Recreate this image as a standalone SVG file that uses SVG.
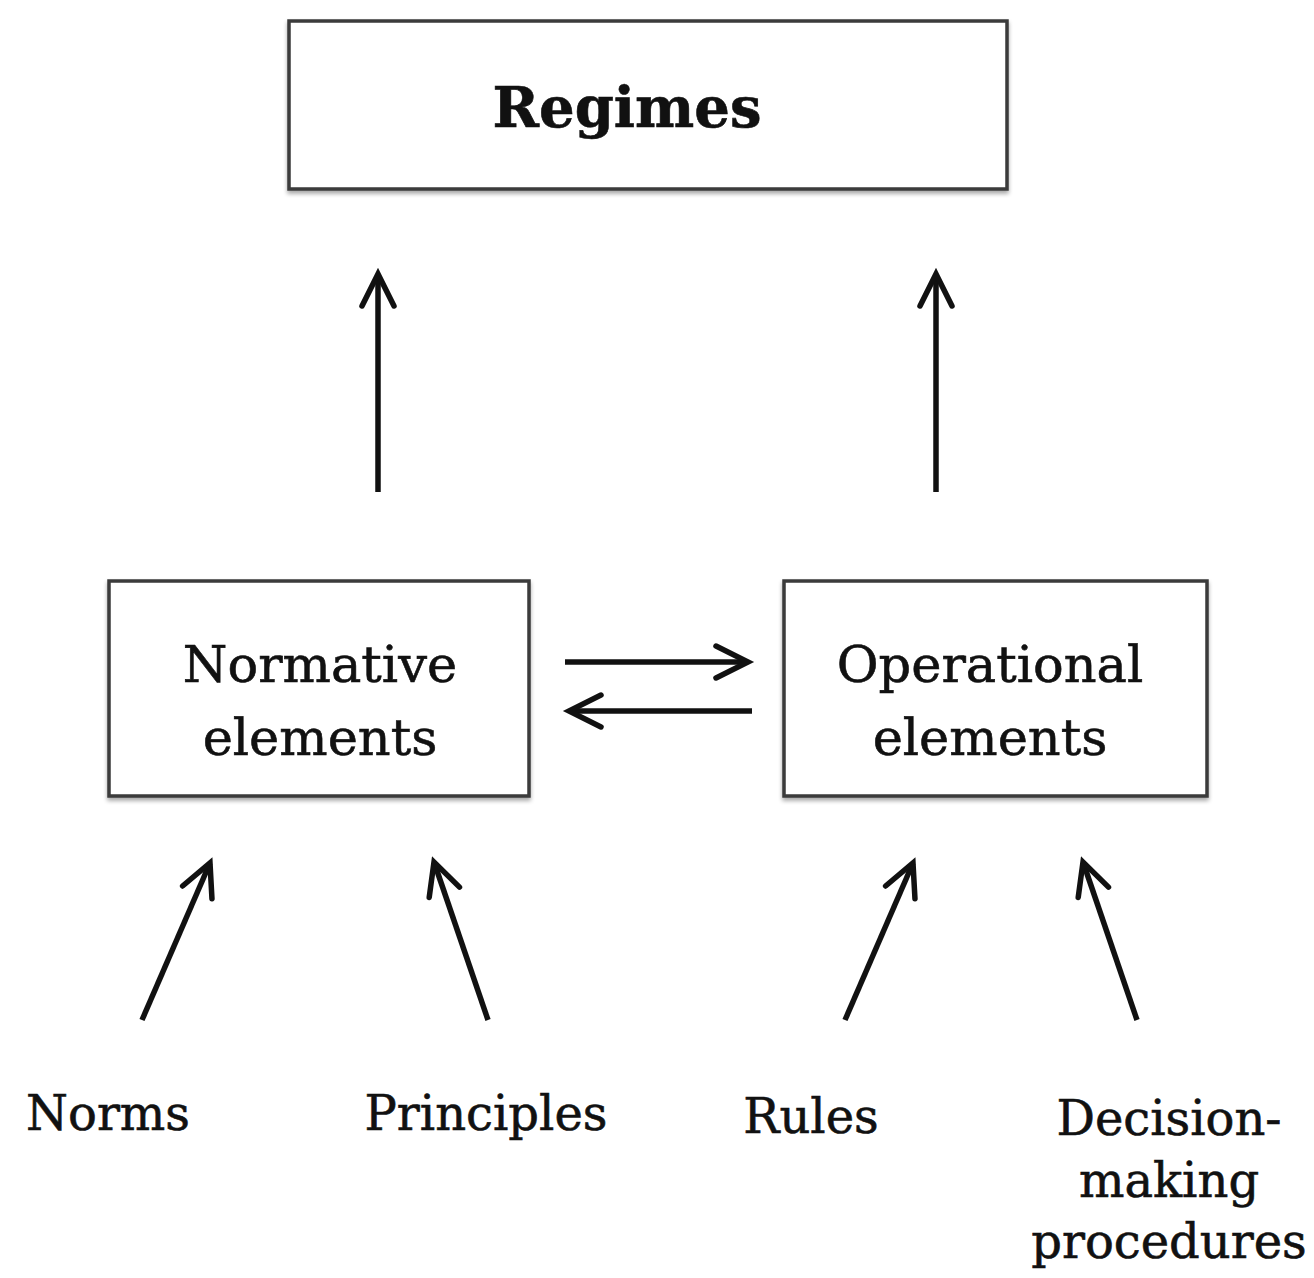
<svg xmlns="http://www.w3.org/2000/svg" width="1314" height="1278" viewBox="0 0 1314 1278">
<defs>
<marker id="ah" viewBox="-40 -24 48 48" refX="0" refY="0" markerWidth="48" markerHeight="48" markerUnits="userSpaceOnUse" orient="auto">
<path d="M-32,-16 L0,0 L-32,16" fill="none" stroke="#111" stroke-width="5.5" stroke-linecap="round"/>
</marker>
<filter id="sh" x="-5%" y="-5%" width="110%" height="115%">
<feGaussianBlur in="SourceAlpha" stdDeviation="2"/>
<feOffset dx="0" dy="3" result="b"/>
<feComponentTransfer><feFuncA type="linear" slope="0.35"/></feComponentTransfer>
<feMerge><feMergeNode/><feMergeNode in="SourceGraphic"/></feMerge>
</filter>
</defs>
<style>
.box{fill:#fff;stroke:#3a3a3a;stroke-width:3.5;filter:url(#sh)}
.t{font-family:"DejaVu Serif","Liberation Serif",serif;fill:#111;text-anchor:middle;stroke:#111;stroke-width:0.6}
.c{stroke:#111;stroke-width:5.5;fill:none;marker-end:url(#ah)}
</style>
<rect width="1314" height="1278" fill="#fff"/>
<g id="regimes">
<rect class="box" x="289" y="21" width="718" height="168"/>
<text class="t" x="627" y="127" font-size="56" font-weight="bold">Regimes</text>
</g>
<g id="normative">
<rect class="box" x="109" y="581" width="420" height="215"/>
<text class="t" x="320" y="682" font-size="51">Normative</text>
<text class="t" x="320" y="755" font-size="51">elements</text>
</g>
<g id="operational">
<rect class="box" x="784" y="581" width="423" height="215"/>
<text class="t" x="990" y="682" font-size="51">Operational</text>
<text class="t" x="990" y="755" font-size="51">elements</text>
</g>
<g id="norms"><text class="t" x="108" y="1130" font-size="48">Norms</text></g>
<g id="principles"><text class="t" x="486" y="1130" font-size="48">Principles</text></g>
<g id="rules"><text class="t" x="811" y="1133" font-size="48">Rules</text></g>
<g id="decision">
<text class="t" x="1169" y="1135" font-size="48">Decision-</text>
<text class="t" x="1169" y="1197" font-size="48">making</text>
<text class="t" x="1169" y="1258" font-size="48">procedures</text>
</g>
<g id="connectors">
<line class="c" x1="378" y1="492" x2="378" y2="274"/>
<line class="c" x1="936" y1="492" x2="936" y2="274"/>
<line class="c" x1="565" y1="662" x2="748" y2="662"/>
<line class="c" x1="752" y1="711" x2="569" y2="711"/>
<line class="c" x1="142" y1="1020" x2="210" y2="863"/>
<line class="c" x1="488" y1="1020" x2="434" y2="862"/>
<line class="c" x1="845" y1="1020" x2="913" y2="863"/>
<line class="c" x1="1137" y1="1020" x2="1083" y2="862"/>
</g>
</svg>
